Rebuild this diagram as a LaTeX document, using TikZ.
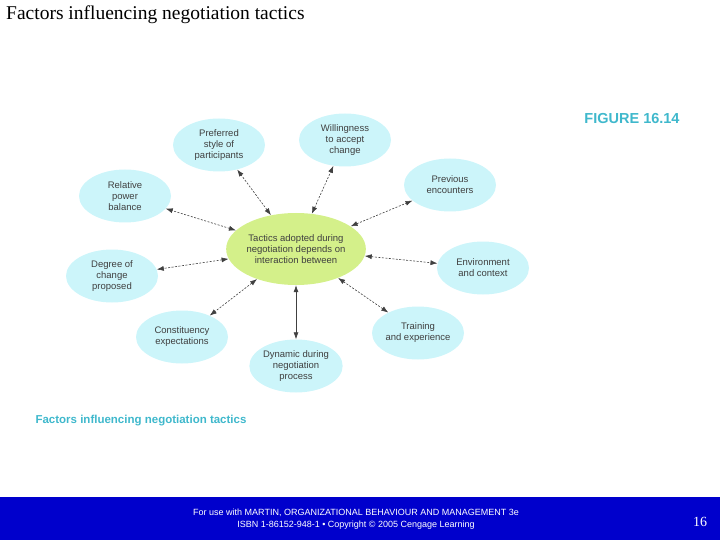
\documentclass[tikz,border=0pt]{standalone}
\usepackage{fontspec}
\setmainfont{Liberation Serif}
\newfontfamily\sfx{Liberation Sans}
\usetikzlibrary{shapes.geometric,arrows.meta}
\definecolor{bub}{HTML}{CCF5FA}
\definecolor{cen}{HTML}{D4F08A}
\definecolor{cap}{HTML}{3FB8CC}
\definecolor{band}{HTML}{0000CC}
\begin{document}
\begin{tikzpicture}[x=1pt,y=-1pt,
  bub/.style={ellipse,fill=bub,minimum width=92pt,minimum height=53pt,inner sep=0pt,align=center,font=\sfx\fontsize{9.5}{11}\selectfont,text=black!75},
  lk/.style={{Latex[length=7pt,width=5pt]}-{Latex[length=7pt,width=5pt]},draw=black!75,dashed,dash pattern=on 2pt off 1.5pt,line width=0.6pt,shorten >=0pt,shorten <=0pt}]
\useasboundingbox (0,0) rectangle (720,540);
\node[anchor=north west,font=\fontsize{19.5}{22}\selectfont,inner sep=0pt] (title) at (6,6) {Factors influencing negotiation tactics};
\node[font=\sfx\bfseries\fontsize{14.5}{16}\selectfont,text=cap] (fig) at (632,119) {FIGURE 16.14};
\node[font=\sfx\bfseries\fontsize{11.5}{13}\selectfont,text=cap] (capt) at (141,421) {Factors influencing negotiation tactics};
\node[bub,fill=cen,minimum width=128pt,minimum height=72pt] (c) at (296,249) {Tactics adopted during\\negotiation depends on\\interaction between};
\node[bub] (p) at (219,145) {Preferred\\style of\\participants};
\node[bub] (w) at (345,140) {Willingness\\to accept\\change};
\node[bub] (pr) at (450,185) {Previous\\encounters};
\node[bub] (r) at (125,196) {Relative\\power\\balance};
\node[bub] (d) at (112,276) {Degree of\\change\\proposed};
\node[bub] (e) at (483,268) {Environment\\and context};
\node[bub] (co) at (182,337) {Constituency\\expectations};
\node[bub] (t) at (418,333) {Training\\and experience};
\node[bub] (dy) at (296,366) {Dynamic during\\negotiation\\process};
\foreach \n in {p,w,pr,r,d,e,co,t} \draw[lk] (c) -- (\n);
\draw[lk,solid] (c) -- (dy);
\fill[band] (0,497) rectangle (720,540);
\node[font=\sfx\fontsize{9}{12}\selectfont,text=white,align=center] (foot) at (356,519) {For use with MARTIN, ORGANIZATIONAL BEHAVIOUR AND MANAGEMENT 3e\\ISBN 1-86152-948-1 \textbullet\ Copyright \textcopyright\ 2005 Cengage Learning};
\node[font=\fontsize{14}{16}\selectfont,text=white] (pg) at (700,522) {16};
\end{tikzpicture}
\end{document}
